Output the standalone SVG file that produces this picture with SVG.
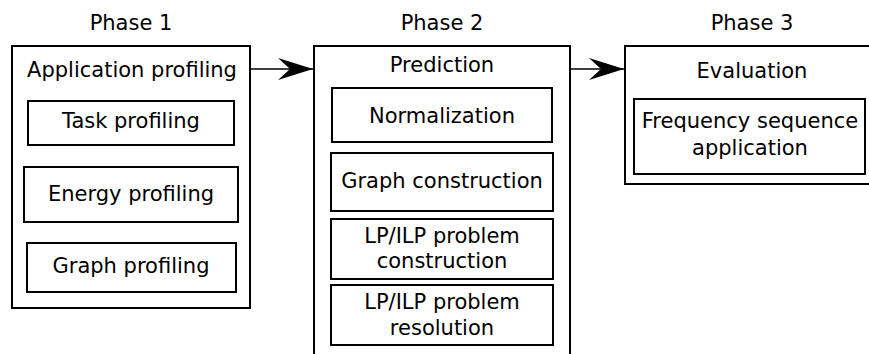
<svg xmlns="http://www.w3.org/2000/svg" width="869" height="354" viewBox="0 0 869 354">
<style>
.box{fill:#fff;stroke:#000;stroke-width:2}
.t{font-family:"DejaVu Sans",sans-serif;font-size:21px;fill:#000;text-anchor:middle}
.c{stroke:#000;stroke-width:1.6;fill:none}
</style>
<defs>
<marker id="ah" markerUnits="userSpaceOnUse" markerWidth="40" markerHeight="26" refX="35" refY="11" orient="auto" viewBox="0 0 40 26">
<path d="M35,11 L0,0 L12,11 L0,22 Z" fill="#000"/>
</marker>
</defs>
<rect width="869" height="354" fill="#fff"/>
<g id="labels">
<text class="t" x="131" y="30">Phase 1</text>
<text class="t" x="442" y="30">Phase 2</text>
<text class="t" x="752" y="30">Phase 3</text>
</g>
<g id="phase1">
<rect class="box" x="12" y="46" width="238" height="262"/>
<text class="t" x="132" y="77">Application profiling</text>
</g>
<g id="task">
<rect class="box" x="28" y="101" width="206" height="44"/>
<text class="t" x="131" y="128">Task profiling</text>
</g>
<g id="energy">
<rect class="box" x="24" y="167" width="214" height="55"/>
<text class="t" x="131" y="201">Energy profiling</text>
</g>
<g id="graphprof">
<rect class="box" x="27" y="243" width="209" height="49"/>
<text class="t" x="131" y="273">Graph profiling</text>
</g>
<g id="phase2">
<path class="box" d="M314,360 V46 H570 V360"/>
<text class="t" x="442" y="72">Prediction</text>
</g>
<g id="norm">
<rect class="box" x="332" y="88" width="220" height="54"/>
<text class="t" x="442" y="123">Normalization</text>
</g>
<g id="graphcons">
<rect class="box" x="331" y="153" width="222" height="58"/>
<text class="t" x="442" y="188">Graph construction</text>
</g>
<g id="lpcons">
<rect class="box" x="331" y="219" width="222" height="60"/>
<text class="t" x="442" y="243">LP/ILP problem</text>
<text class="t" x="442" y="268">construction</text>
</g>
<g id="lpres">
<rect class="box" x="331" y="285" width="222" height="60"/>
<text class="t" x="442" y="309">LP/ILP problem</text>
<text class="t" x="442" y="335">resolution</text>
</g>
<g id="phase3">
<path class="box" d="M880,46 H625 V184 H880"/>
<text class="t" x="752" y="78">Evaluation</text>
</g>
<g id="freq">
<rect class="box" x="634" y="99" width="231" height="75"/>
<text class="t" x="750" y="128">Frequency sequence</text>
<text class="t" x="750" y="155">application</text>
</g>
<g id="connectors">
<line class="c" x1="251" y1="69" x2="313" y2="69" marker-end="url(#ah)"/>
<line class="c" x1="571" y1="69" x2="624" y2="69" marker-end="url(#ah)"/>
</g>
</svg>
